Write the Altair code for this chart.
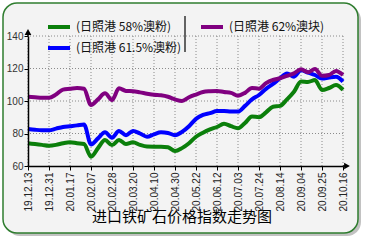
import altair as alt
import pandas as pd

dates = ["19.12.13", "19.12.31", "20.01.17", "20.02.07", "20.02.28", "20.03.20",
         "20.04.10", "20.04.30", "20.05.22", "20.06.12", "20.07.03", "20.07.24",
         "20.08.14", "20.09.04", "20.09.25", "20.10.16"]
x_ticks = list(range(0, 46, 3))
y_ticks = [60, 80, 100, 120, 140]

s58_name = "(日照港 58%澳粉)"
s615_name = "(日照港 61.5%澳粉)"
s62_name = "(日照港 62%澳块)"

s58 = [74, 73.5, 73, 72.5, 73, 74, 74.6, 74, 73.5, 65.7, 71, 76, 72.9, 76, 73.5, 74.6,
       73, 72, 71.9, 71.9, 71.5, 69.2, 71, 74, 78, 80.5, 82.5, 84, 86, 84.5, 83.2, 86.5,
       90.5, 90, 93, 96.5, 97, 101, 105.7, 112, 111.7, 112.9, 106.8, 108, 109.8, 106.8]
s615 = [82.8, 82.3, 82, 82, 83, 84, 84.5, 85, 85.6, 73.3, 77, 80.7, 77.4, 81.5, 79, 81.5,
        80, 78, 79.5, 80.7, 80.3, 79, 81, 84.5, 89, 91.4, 92.5, 93.8, 93.8, 93.5, 93.5, 97,
        101, 103.7, 107.5, 110.5, 114, 117, 115, 119, 117.5, 116, 113.8, 114.5, 115, 112]
s62 = [102.6, 102.3, 102, 102, 104, 107, 107.5, 108, 107.5, 97.5, 101, 104.7, 100.6, 107.8,
       106.2, 106, 105.3, 104.5, 103.8, 103.5, 102.6, 101, 100, 102.3, 104, 105.5, 106,
       106.2, 105.5, 105, 103.3, 105, 108, 107.6, 111, 113, 114, 115.5, 117, 119.5, 117.7,
       119.7, 115.5, 116, 118.5, 116]

title_text = "进口铁矿石价格指数走势图"

rows = []
for name, vals in [(s58_name, s58), (s615_name, s615), (s62_name, s62)]:
    for i, v in enumerate(vals):
        rows.append({"i": i, "v": v, "series": name})
df = pd.DataFrame(rows)
dummy = pd.DataFrame({"t": [title_text]})
gx = pd.DataFrame({"i": x_ticks})
gy = pd.DataFrame({"v": y_ticks[1:]})

W, H = 315, 130
FONT = "Noto Sans CJK SC"
label_arr = "[" + ",".join("'%s'" % d for d in dates) + "]"

xscale = alt.Scale(domain=[0, 45], nice=False, zero=False)
yscale = alt.Scale(domain=[60, 140], nice=False, zero=False)

xaxis = alt.Axis(values=x_ticks,
                 labelExpr=label_arr + "[round(datum.value/3)]",
                 labelAngle=-90, labelFontSize=10, labelFont="Liberation Sans",
                 labelColor="#222", labelPadding=2, tickSize=4, tickColor="#000",
                 domainColor="#000", domainWidth=1.5, grid=False, zindex=1,
                 labelOverlap=False, labelBound=False, labelFlush=False)
yaxis = alt.Axis(values=y_ticks, labelFontSize=10,
                 labelFont="Liberation Sans", labelColor="#333", labelPadding=1,
                 tickSize=4, tickColor="#000", domainColor="#000", domainWidth=1.5,
                 grid=False, zindex=1, labelOverlap=False, labelFlush=False)

shadow = alt.Chart(dummy).mark_rect(cornerRadius=14, fill="#9a9a9a", opacity=0.6).encode(
    x=alt.value(-22), x2=alt.value(333), y=alt.value(-30), y2=alt.value(200))
frame = alt.Chart(dummy).mark_rect(cornerRadius=14, fill="#f3f3f3", stroke="#2f7d2f",
                                   strokeWidth=1.5).encode(
    x=alt.value(-25), x2=alt.value(330), y=alt.value(-33), y2=alt.value(197))

gridx = alt.Chart(gx).mark_rule(strokeDash=[1, 2], color="#8a8a8a", strokeWidth=1).encode(
    x=alt.X("i:Q", scale=xscale, title=None, axis=xaxis))
gridy = alt.Chart(gy).mark_rule(strokeDash=[1, 2], color="#8a8a8a", strokeWidth=1).encode(
    y=alt.Y("v:Q", scale=yscale, title=None, axis=yaxis))

lines = alt.Chart(df).mark_line(strokeWidth=4, interpolate="monotone").encode(
    x=alt.X("i:Q", title=None, scale=xscale, axis=xaxis),
    y=alt.Y("v:Q", title=None, scale=yscale, axis=yaxis),
    color=alt.Color("series:N",
                    scale=alt.Scale(domain=[s58_name, s615_name, s62_name],
                                    range=["#0b7f0b", "#0000ff", "#800080"]),
                    legend=alt.Legend(orient="none", legendX=18, legendY=-22, columns=2,
                                      title=None, symbolType="stroke", symbolSize=484,
                                      symbolStrokeWidth=4, labelFont=FONT, labelFontSize=12,
                                      labelColor="#111", labelOffset=4, columnPadding=11,
                                      rowPadding=-5, labelLimit=200)),
    order="i:Q",
)

sep = alt.Chart(dummy).mark_rule(color="#333", strokeWidth=1.5).encode(
    x=alt.value(157), y=alt.value(-20), y2=alt.value(16))

yext = alt.Chart(dummy).mark_rule(color="#000", strokeWidth=1.5).encode(
    x=alt.value(0), y=alt.value(-4), y2=alt.value(0))
xext = alt.Chart(dummy).mark_rule(color="#000", strokeWidth=1.5).encode(
    x=alt.value(315), x2=alt.value(319), y=alt.value(130))
yarrow = alt.Chart(dummy).mark_point(shape="triangle-up", filled=True, color="#000",
                                     size=45, opacity=1).encode(
    x=alt.value(0), y=alt.value(-4))
xarrow = alt.Chart(dummy).mark_point(shape="triangle-right", filled=True, color="#000",
                                     size=45, opacity=1).encode(
    x=alt.value(319), y=alt.value(130))

title = alt.Chart(dummy).mark_text(font=FONT, fontSize=15, color="#000").encode(
    text="t:N", x=alt.value(154), y=alt.value(181))

chart = alt.layer(shadow, frame, gridx, gridy, lines, sep, yext, xext, yarrow, xarrow,
                  title).properties(
    width=W, height=H,
    padding={"left": 28, "top": 36, "right": 22, "bottom": 79},
    autosize=alt.AutoSizeParams(type="none"),
    background="#ffffff",
).configure_view(stroke=None).configure_axis(labelOverlap=False)

chart.save("out.html", embed_options={"renderer": "svg", "actions": False})
